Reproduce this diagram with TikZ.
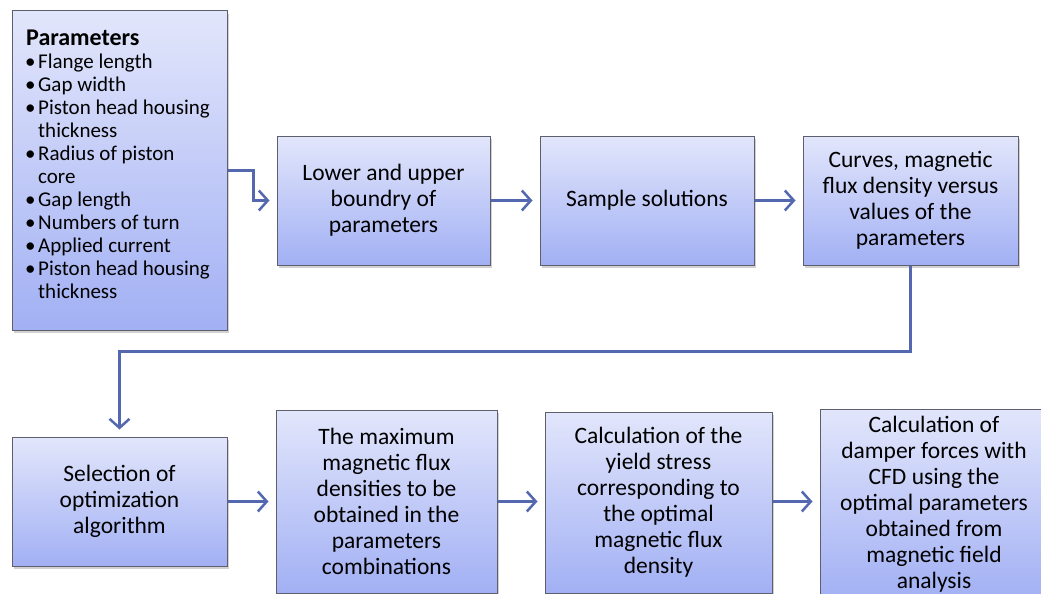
\documentclass[tikz,border=0pt]{standalone}
\usepackage{fontspec}
\setmainfont{Carlito}
\usetikzlibrary{arrows.meta,shadows}
\definecolor{boxtop}{HTML}{E2E6FB}
\definecolor{boxbot}{HTML}{A2B0F4}
\definecolor{boxline}{HTML}{5E5E6C}
\definecolor{flow}{HTML}{5468B0}
\tikzset{
  stagebox/.style={draw=boxline, line width=1pt, top color=boxtop, bottom color=boxbot,
    drop shadow={shadow xshift=2pt, shadow yshift=-3pt, opacity=0.35},
    align=center, inner sep=2pt, font=\fontsize{23.5}{26}\selectfont},
  flowline/.style={draw=flow, line width=3pt,
    -{Straight Barb[length=9pt,width=20pt,line width=2.5pt]}, shorten >=7pt},
}
\newcommand{\bul}{\makebox[12pt][r]{\textbullet\hspace{2.5pt}}}
\newcommand{\cont}{\hspace*{12pt}}
\begin{document}
\begin{tikzpicture}[x=1pt,y=-1pt]
\useasboundingbox (0,0) rectangle (1041,594);
\fill[white] (0,0) rectangle (1041,594);

% input parameters: the box, then its list
\node[stagebox, minimum width=215, minimum height=319] (params) at (119.5,170.5) {};
\node[anchor=north west, inner sep=0pt, align=left,
      font=\fontsize{21}{23}\selectfont] (paramlist) at (26,30)
  {{\fontsize{24}{24}\selectfont\textbf{Parameters}}\\
   \bul Flange length\\
   \bul Gap width\\
   \bul Piston head housing\\
   \cont thickness\\
   \bul Radius of piston\\
   \cont core\\
   \bul Gap length\\
   \bul Numbers of turn\\
   \bul Applied current\\
   \bul Piston head housing\\
   \cont thickness};

% upper row
\node[stagebox, minimum width=213, minimum height=129] (bounds) at (383.5,200.5)
  {Lower and upper\\boundry of\\parameters};
\node[stagebox, minimum width=214, minimum height=129] (sample) at (647,200.5)
  {Sample solutions};
\node[stagebox, minimum width=215, minimum height=129] (curves) at (910.5,200.5)
  {Curves, magnetic\\flux density versus\\values of the\\parameters};

% lower row
\node[stagebox, minimum width=215, minimum height=129] (select) at (119.5,501.5)
  {Selection of\\optimization\\algorithm};
\node[stagebox, minimum width=221, minimum height=183] (maxflux) at (386.5,501.5)
  {The maximum\\magnetic flux\\densities to be\\obtained in the\\parameters\\combinations};
\node[stagebox, minimum width=227, minimum height=181] (yield) at (658.5,502.5)
  {Calculation of the\\yield stress\\corresponding to\\the optimal\\magnetic flux\\density};
\node[stagebox, minimum width=228, minimum height=190] (damper) at (934,504)
  {Calculation of\\damper forces with\\CFD using the\\optimal parameters\\obtained from\\magnetic field\\analysis};

% connectors
\draw[flowline] (params.east) -- ++(26,0) |- (bounds.west);
\draw[flowline] (bounds) -- (sample);
\draw[flowline] (sample) -- (curves);
\draw[flowline] (curves.south) -- ++(0,86) -| (select.north);
\draw[flowline] (select) -- (select -| maxflux.west);
\draw[flowline] (maxflux.east |- select) -- (select -| yield.west);
\draw[flowline] (yield.east |- select) -- (select -| damper.west);
\end{tikzpicture}
\end{document}
